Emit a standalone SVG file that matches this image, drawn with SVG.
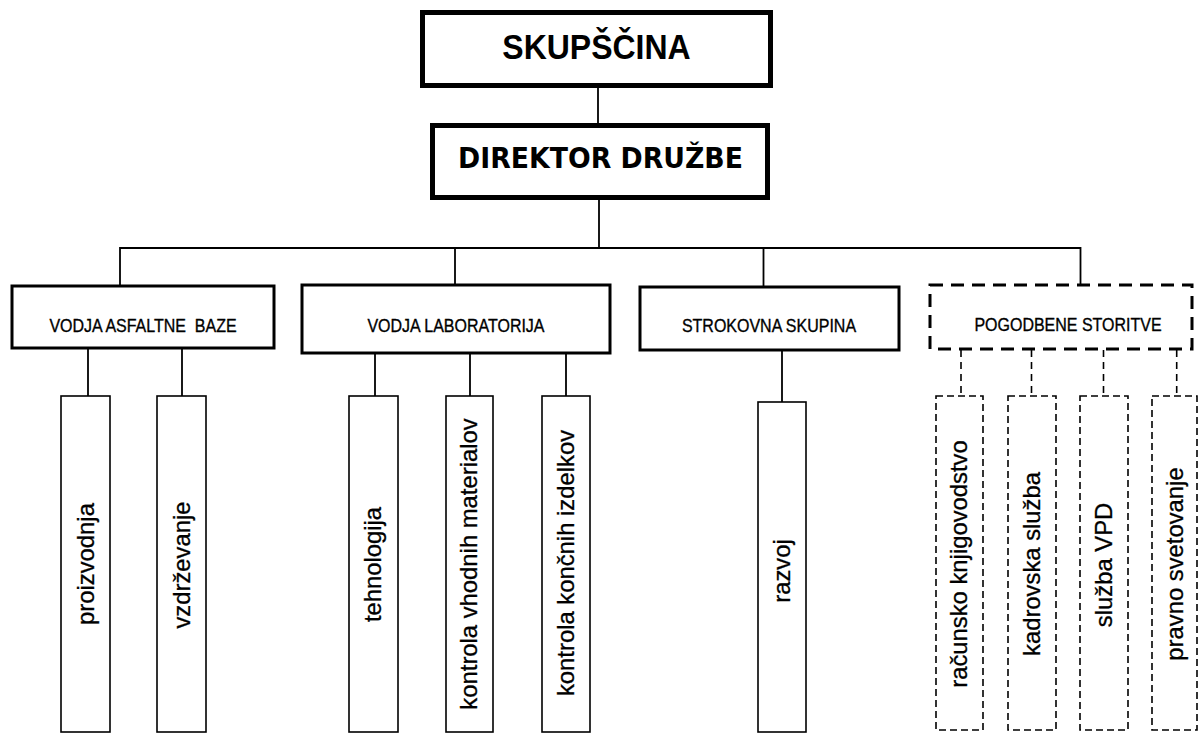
<svg xmlns="http://www.w3.org/2000/svg" width="1199" height="733" viewBox="0 0 1199 733">
  <style>
    .top { fill: #fff; stroke: #000; stroke-width: 5; }
    .mid { fill: #fff; stroke: #000; stroke-width: 3; }
    .midd { fill: #fff; stroke: #000; stroke-width: 3; stroke-dasharray: 13 8; }
    .unit { fill: #fff; stroke: #000; stroke-width: 1.6; }
    .unitd { fill: #fff; stroke: #000; stroke-width: 1.6; stroke-dasharray: 7 4; }
    .link { fill: none; stroke: #000; stroke-width: 1.8; }
    .linkd { fill: none; stroke: #000; stroke-width: 1.6; stroke-dasharray: 7 5; }
    .t1 { font-family: "Liberation Sans", Arial, sans-serif; font-weight: bold; font-size: 32px; text-anchor: middle; }
    .t2 { font-family: "DejaVu Sans", Verdana, sans-serif; font-weight: bold; font-size: 27px; text-anchor: middle; }
    .t3 { font-family: "Liberation Sans", Arial, sans-serif; font-size: 16px; text-anchor: middle; stroke: #000; stroke-width: 0.3; }
    .tv { font-family: "Liberation Sans", Arial, sans-serif; font-size: 23px; text-anchor: middle; stroke: #000; stroke-width: 0.3; }
  </style>

  <!-- connectors -->
  <g id="connectors">
    <line class="link" x1="598" y1="88" x2="598" y2="125"/>
    <line class="link" x1="599" y1="200" x2="599" y2="248"/>
    <polyline class="link" points="120,286 120,248 1080.5,248 1080.5,285"/>
    <line class="link" x1="455" y1="248" x2="455" y2="285"/>
    <line class="link" x1="763.5" y1="248" x2="763.5" y2="287"/>
    <!-- asfaltna baza -->
    <line class="link" x1="88" y1="348" x2="88" y2="396"/>
    <line class="link" x1="182" y1="348" x2="182" y2="396"/>
    <!-- laboratorij -->
    <line class="link" x1="375" y1="353" x2="375" y2="396"/>
    <line class="link" x1="470" y1="353" x2="470" y2="396"/>
    <line class="link" x1="566" y1="353" x2="566" y2="396"/>
    <!-- strokovna skupina -->
    <line class="link" x1="782" y1="350" x2="782" y2="402"/>
    <!-- pogodbene storitve -->
    <line class="linkd" x1="961" y1="350" x2="961" y2="396"/>
    <line class="linkd" x1="1031.5" y1="350" x2="1031.5" y2="396"/>
    <line class="linkd" x1="1103.5" y1="350" x2="1103.5" y2="396"/>
    <line class="linkd" x1="1176.7" y1="350" x2="1176.7" y2="396"/>
  </g>

  <g id="skupscina">
    <rect class="top" x="422.5" y="12.5" width="348" height="73"/>
    <text class="t1" transform="translate(596.5,59) scale(1,1.08)">SKUPŠČINA</text>
  </g>

  <g id="direktor">
    <rect class="top" x="432.5" y="125.5" width="335" height="72"/>
    <text class="t2" transform="translate(600.5,168) scale(1,1.08)" textLength="285" lengthAdjust="spacingAndGlyphs">DIREKTOR DRUŽBE</text>
  </g>

  <g id="vodja-asfaltne-baze">
    <rect class="mid" x="12" y="286" width="262" height="62"/>
    <text class="t3" transform="translate(143,332) scale(1,1.2)">VODJA ASFALTNE&#160; BAZE</text>
  </g>

  <g id="vodja-laboratorija">
    <rect class="mid" x="302" y="285" width="308" height="68"/>
    <text class="t3" transform="translate(456,332) scale(1,1.2)">VODJA LABORATORIJA</text>
  </g>

  <g id="strokovna-skupina">
    <rect class="mid" x="640" y="287" width="259" height="63"/>
    <text class="t3" transform="translate(769,332) scale(1,1.2)">STROKOVNA SKUPINA</text>
  </g>

  <g id="pogodbene-storitve">
    <rect class="midd" x="930" y="285" width="262" height="64"/>
    <text class="t3" transform="translate(1068,331) scale(1,1.2)">POGODBENE STORITVE</text>
  </g>

  <!-- units: labels read bottom to top, slightly stretched along the reading direction -->
  <g id="proizvodnja">
    <rect class="unit" x="61" y="396" width="49" height="336"/>
    <text class="tv" transform="translate(85.5,564) rotate(-90) scale(1.036,1)" y="8">proizvodnja</text>
  </g>
  <g id="vzdrzevanje">
    <rect class="unit" x="157" y="396" width="49" height="336"/>
    <text class="tv" transform="translate(181.5,565) rotate(-90) scale(1.036,1)" y="8">vzdrževanje</text>
  </g>
  <g id="tehnologija">
    <rect class="unit" x="349" y="396" width="49" height="336"/>
    <text class="tv" transform="translate(373.5,564.5) rotate(-90) scale(1.036,1)" y="7.5">tehnologija</text>
  </g>
  <g id="kontrola-vhodnih">
    <rect class="unit" x="446" y="396" width="47" height="336"/>
    <text class="tv" transform="translate(469.5,564) rotate(-90) scale(1.036,1)" y="7.5">kontrola vhodnih materialov</text>
  </g>
  <g id="kontrola-koncnih">
    <rect class="unit" x="542" y="396" width="48" height="336"/>
    <text class="tv" transform="translate(566,563) rotate(-90) scale(1.036,1)" y="7.5">kontrola končnih izdelkov</text>
  </g>
  <g id="razvoj">
    <rect class="unit" x="758" y="402" width="48" height="330"/>
    <text class="tv" transform="translate(782,571) rotate(-90) scale(1.036,1)" y="7.5">razvoj</text>
  </g>
  <g id="racunsko-knjigovodstvo">
    <rect class="unitd" x="936" y="396" width="47" height="334"/>
    <text class="tv" transform="translate(959.5,564) rotate(-90) scale(1.036,1)" y="7.5">računsko knjigovodstvo</text>
  </g>
  <g id="kadrovska-sluzba">
    <rect class="unitd" x="1008" y="396" width="48" height="334"/>
    <text class="tv" transform="translate(1032,564) rotate(-90) scale(1.036,1)" y="7.5">kadrovska služba</text>
  </g>
  <g id="sluzba-vpd">
    <rect class="unitd" x="1080" y="396" width="48" height="334"/>
    <text class="tv" transform="translate(1104,565) rotate(-90) scale(1.036,1)" y="7.5">služba VPD</text>
  </g>
  <g id="pravno-svetovanje">
    <rect class="unitd" x="1152" y="396" width="45" height="334"/>
    <text class="tv" transform="translate(1175,564) rotate(-90) scale(1.036,1)" y="7.5">pravno svetovanje</text>
  </g>
</svg>
